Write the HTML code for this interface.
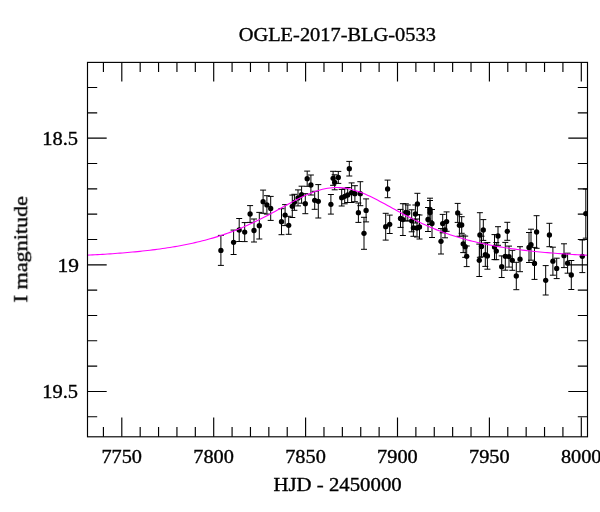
<!DOCTYPE html>
<html><head><meta charset="utf-8"><title>OGLE-2017-BLG-0533</title>
<style>html,body{margin:0;padding:0;background:#fff;}body{width:600px;height:512px;overflow:hidden;}svg{display:block;}text{font-family:"Liberation Serif",serif;fill:#000;stroke:#000;stroke-width:0.35px;}</style></head><body>
<svg width="600" height="512" viewBox="0 0 600 512">
<rect width="600" height="512" fill="#fff"/>
<defs><clipPath id="c"><rect x="87.5" y="62.4" width="500.0" height="374.4"/></clipPath></defs>
<path d="M103.42 436.80v-9.70M103.42 62.40v9.70M121.80 436.80v-19.20M121.80 62.40v19.20M140.18 436.80v-9.70M140.18 62.40v9.70M158.56 436.80v-9.70M158.56 62.40v9.70M176.94 436.80v-9.70M176.94 62.40v9.70M195.32 436.80v-9.70M195.32 62.40v9.70M213.70 436.80v-19.20M213.70 62.40v19.20M232.08 436.80v-9.70M232.08 62.40v9.70M250.46 436.80v-9.70M250.46 62.40v9.70M268.84 436.80v-9.70M268.84 62.40v9.70M287.22 436.80v-9.70M287.22 62.40v9.70M305.60 436.80v-19.20M305.60 62.40v19.20M323.98 436.80v-9.70M323.98 62.40v9.70M342.36 436.80v-9.70M342.36 62.40v9.70M360.74 436.80v-9.70M360.74 62.40v9.70M379.12 436.80v-9.70M379.12 62.40v9.70M397.50 436.80v-19.20M397.50 62.40v19.20M415.88 436.80v-9.70M415.88 62.40v9.70M434.26 436.80v-9.70M434.26 62.40v9.70M452.64 436.80v-9.70M452.64 62.40v9.70M471.02 436.80v-9.70M471.02 62.40v9.70M489.40 436.80v-19.20M489.40 62.40v19.20M507.78 436.80v-9.70M507.78 62.40v9.70M526.16 436.80v-9.70M526.16 62.40v9.70M544.54 436.80v-9.70M544.54 62.40v9.70M562.92 436.80v-9.70M562.92 62.40v9.70M581.30 436.80v-19.20M581.30 62.40v19.20M87.50 87.49h9.70M587.50 87.49h-9.70M87.50 112.82h9.70M587.50 112.82h-9.70M87.50 138.15h19.20M587.50 138.15h-19.20M87.50 163.48h9.70M587.50 163.48h-9.70M87.50 188.81h9.70M587.50 188.81h-9.70M87.50 214.14h9.70M587.50 214.14h-9.70M87.50 239.47h9.70M587.50 239.47h-9.70M87.50 264.80h19.20M587.50 264.80h-19.20M87.50 290.13h9.70M587.50 290.13h-9.70M87.50 315.46h9.70M587.50 315.46h-9.70M87.50 340.79h9.70M587.50 340.79h-9.70M87.50 366.12h9.70M587.50 366.12h-9.70M87.50 391.45h19.20M587.50 391.45h-19.20M87.50 416.78h9.70M587.50 416.78h-9.70" stroke="#000" stroke-width="1.15" fill="none"/>
<g clip-path="url(#c)">
<path d="M220.9 235.4V265.4M217.9 235.4h6M217.9 265.4h6M233.6 230.1V254.5M230.6 230.1h6M230.6 254.5h6M239.2 218.5V241.5M236.2 218.5h6M236.2 241.5h6M244.7 222.6V241.6M241.7 222.6h6M241.7 241.6h6M254.0 219.0V242.0M251.0 219.0h6M251.0 242.0h6M259.3 212.4V239.0M256.3 212.4h6M256.3 239.0h6M250.1 205.6V222.4M247.1 205.6h6M247.1 222.4h6M263.1 190.1V213.3M260.1 190.1h6M260.1 213.3h6M266.9 195.7V214.1M263.9 195.7h6M263.9 214.1h6M270.7 196.4V220.4M267.7 196.4h6M267.7 220.4h6M281.5 208.7V234.7M278.5 208.7h6M278.5 234.7h6M285.1 204.6V225.6M282.1 204.6h6M282.1 225.6h6M288.7 216.3V234.3M285.7 216.3h6M285.7 234.3h6M292.3 195.1V217.5M289.3 195.1h6M289.3 217.5h6M294.4 194.3V210.3M291.4 194.3h6M291.4 210.3h6M298.0 189.9V205.9M295.0 189.9h6M295.0 205.9h6M301.6 186.2V203.2M298.6 186.2h6M298.6 203.2h6M305.3 193.7V213.7M302.3 193.7h6M302.3 213.7h6M307.2 171.1V186.3M304.2 171.1h6M304.2 186.3h6M310.9 175.0V195.0M307.9 175.0h6M307.9 195.0h6M314.7 191.3V209.3M311.7 191.3h6M311.7 209.3h6M318.3 184.6V218.0M315.3 184.6h6M315.3 218.0h6M330.9 194.5V214.1M327.9 194.5h6M327.9 214.1h6M333.1 171.3V185.3M330.1 171.3h6M330.1 185.3h6M334.7 174.8V189.8M331.7 174.8h6M331.7 189.8h6M338.3 171.4V183.4M335.3 171.4h6M335.3 183.4h6M341.7 189.4V206.0M338.7 189.4h6M338.7 206.0h6M344.7 188.8V203.8M341.7 188.8h6M341.7 203.8h6M347.7 187.5V202.5M344.7 187.5h6M344.7 202.5h6M349.3 161.4V176.0M346.3 161.4h6M346.3 176.0h6M351.6 182.9V202.5M348.6 182.9h6M348.6 202.5h6M354.9 185.7V201.7M351.9 185.7h6M351.9 201.7h6M360.3 181.7V205.7M357.3 181.7h6M357.3 205.7h6M358.4 203.0V222.4M355.4 203.0h6M355.4 222.4h6M366.1 198.9V221.9M363.1 198.9h6M363.1 221.9h6M364.0 217.3V249.3M361.0 217.3h6M361.0 249.3h6M387.6 180.1V197.7M384.6 180.1h6M384.6 197.7h6M385.7 213.3V240.1M382.7 213.3h6M382.7 240.1h6M389.7 215.1V233.5M386.7 215.1h6M386.7 233.5h6M400.5 209.4V227.4M397.5 209.4h6M397.5 227.4h6M402.9 203.7V235.5M399.9 203.7h6M399.9 235.5h6M405.8 203.8V220.8M402.8 203.8h6M402.8 220.8h6M407.8 205.0V221.0M404.8 205.0h6M404.8 221.0h6M411.7 209.8V231.8M408.7 209.8h6M408.7 231.8h6M413.4 219.3V236.3M410.4 219.3h6M410.4 236.3h6M415.4 205.0V223.0M412.4 205.0h6M412.4 223.0h6M417.4 193.3V214.5M414.4 193.3h6M414.4 214.5h6M417.0 219.0V237.0M414.0 219.0h6M414.0 237.0h6M419.5 215.0V239.0M416.5 215.0h6M416.5 239.0h6M428.0 207.5V231.5M425.0 207.5h6M425.0 231.5h6M430.0 198.2V220.8M427.0 198.2h6M427.0 220.8h6M430.0 200.5V224.5M427.0 200.5h6M427.0 224.5h6M432.0 209.5V237.5M429.0 209.5h6M429.0 237.5h6M442.7 214.4V232.8M439.7 214.4h6M439.7 232.8h6M446.6 211.9V231.3M443.6 211.9h6M443.6 231.3h6M445.0 221.8V237.8M442.0 221.8h6M442.0 237.8h6M441.0 228.6V254.0M438.0 228.6h6M438.0 254.0h6M457.7 203.4V222.4M454.7 203.4h6M454.7 222.4h6M459.4 214.3V236.3M456.4 214.3h6M456.4 236.3h6M461.7 216.7V233.3M458.7 216.7h6M458.7 233.3h6M463.2 235.0V252.6M460.2 235.0h6M460.2 252.6h6M465.2 236.1V257.3M462.2 236.1h6M462.2 257.3h6M466.7 246.0V266.6M463.7 246.0h6M463.7 266.6h6M479.9 212.7V257.3M476.9 212.7h6M476.9 257.3h6M483.3 219.6V240.4M480.3 219.6h6M480.3 240.4h6M481.5 236.2V256.8M478.5 236.2h6M478.5 256.8h6M479.3 244.1V276.5M476.3 244.1h6M476.3 276.5h6M485.3 243.0V266.4M482.3 243.0h6M482.3 266.4h6M487.4 242.6V269.2M484.4 242.6h6M484.4 269.2h6M494.5 234.6V259.6M491.5 234.6h6M491.5 259.6h6M496.3 242.5V259.7M493.3 242.5h6M493.3 259.7h6M498.0 226.7V245.3M495.0 226.7h6M495.0 245.3h6M507.3 222.3V240.3M504.3 222.3h6M504.3 240.3h6M501.7 255.9V277.5M498.7 255.9h6M498.7 277.5h6M505.3 242.4V270.2M502.3 242.4h6M502.3 270.2h6M509.0 246.1V267.1M506.0 246.1h6M506.0 267.1h6M512.3 250.3V270.3M509.3 250.3h6M509.3 270.3h6M516.3 262.3V289.7M513.3 262.3h6M513.3 289.7h6M520.0 246.7V271.7M517.0 246.7h6M517.0 271.7h6M529.0 232.5V262.5M526.0 232.5h6M526.0 262.5h6M531.0 229.2V260.2M528.0 229.2h6M528.0 260.2h6M534.5 247.4V279.4M531.5 247.4h6M531.5 279.4h6M536.6 215.7V248.3M533.6 215.7h6M533.6 248.3h6M549.4 223.3V246.7M546.4 223.3h6M546.4 246.7h6M545.7 265.6V295.0M542.7 265.6h6M542.7 295.0h6M552.9 247.2V275.2M549.9 247.2h6M549.9 275.2h6M556.7 258.2V278.6M553.7 258.2h6M553.7 278.6h6M564.0 243.8V267.6M561.0 243.8h6M561.0 267.6h6M567.6 253.2V273.2M564.6 253.2h6M564.6 273.2h6M571.3 260.5V289.5M568.3 260.5h6M568.3 289.5h6M582.3 240.0V272.6M579.3 240.0h6M579.3 272.6h6M585.8 189.0V238.2M582.8 189.0h6M582.8 238.2h6" stroke="#000" stroke-width="1.0" fill="none"/>
<g fill="#000"><circle cx="220.9" cy="250.4" r="2.65"/><circle cx="233.6" cy="242.3" r="2.65"/><circle cx="239.2" cy="230.0" r="2.65"/><circle cx="244.7" cy="232.1" r="2.65"/><circle cx="254.0" cy="230.5" r="2.65"/><circle cx="259.3" cy="225.7" r="2.65"/><circle cx="250.1" cy="214.0" r="2.65"/><circle cx="263.1" cy="201.7" r="2.65"/><circle cx="266.9" cy="204.9" r="2.65"/><circle cx="270.7" cy="208.4" r="2.65"/><circle cx="281.5" cy="221.7" r="2.65"/><circle cx="285.1" cy="215.1" r="2.65"/><circle cx="288.7" cy="225.3" r="2.65"/><circle cx="292.3" cy="206.3" r="2.65"/><circle cx="294.4" cy="202.3" r="2.65"/><circle cx="298.0" cy="197.9" r="2.65"/><circle cx="301.6" cy="194.7" r="2.65"/><circle cx="305.3" cy="203.7" r="2.65"/><circle cx="307.2" cy="178.7" r="2.65"/><circle cx="310.9" cy="185.0" r="2.65"/><circle cx="314.7" cy="200.3" r="2.65"/><circle cx="318.3" cy="201.3" r="2.65"/><circle cx="330.9" cy="204.3" r="2.65"/><circle cx="333.1" cy="178.3" r="2.65"/><circle cx="334.7" cy="182.3" r="2.65"/><circle cx="338.3" cy="177.4" r="2.65"/><circle cx="341.7" cy="197.7" r="2.65"/><circle cx="344.7" cy="196.3" r="2.65"/><circle cx="347.7" cy="195.0" r="2.65"/><circle cx="349.3" cy="168.7" r="2.65"/><circle cx="351.6" cy="192.7" r="2.65"/><circle cx="354.9" cy="193.7" r="2.65"/><circle cx="360.3" cy="193.7" r="2.65"/><circle cx="358.4" cy="212.7" r="2.65"/><circle cx="366.1" cy="210.4" r="2.65"/><circle cx="364.0" cy="233.3" r="2.65"/><circle cx="387.6" cy="188.9" r="2.65"/><circle cx="385.7" cy="226.7" r="2.65"/><circle cx="389.7" cy="224.3" r="2.65"/><circle cx="400.5" cy="218.4" r="2.65"/><circle cx="402.9" cy="219.6" r="2.65"/><circle cx="405.8" cy="212.3" r="2.65"/><circle cx="407.8" cy="213.0" r="2.65"/><circle cx="411.7" cy="220.8" r="2.65"/><circle cx="413.4" cy="227.8" r="2.65"/><circle cx="415.4" cy="214.0" r="2.65"/><circle cx="417.4" cy="203.9" r="2.65"/><circle cx="417.0" cy="228.0" r="2.65"/><circle cx="419.5" cy="227.0" r="2.65"/><circle cx="428.0" cy="219.5" r="2.65"/><circle cx="430.0" cy="209.5" r="2.65"/><circle cx="430.0" cy="212.5" r="2.65"/><circle cx="432.0" cy="223.5" r="2.65"/><circle cx="442.7" cy="223.6" r="2.65"/><circle cx="446.6" cy="221.6" r="2.65"/><circle cx="445.0" cy="229.8" r="2.65"/><circle cx="441.0" cy="241.3" r="2.65"/><circle cx="457.7" cy="212.9" r="2.65"/><circle cx="459.4" cy="225.3" r="2.65"/><circle cx="461.7" cy="225.0" r="2.65"/><circle cx="463.2" cy="243.8" r="2.65"/><circle cx="465.2" cy="246.7" r="2.65"/><circle cx="466.7" cy="256.3" r="2.65"/><circle cx="479.9" cy="235.0" r="2.65"/><circle cx="483.3" cy="230.0" r="2.65"/><circle cx="481.5" cy="246.5" r="2.65"/><circle cx="479.3" cy="260.3" r="2.65"/><circle cx="485.3" cy="254.7" r="2.65"/><circle cx="487.4" cy="255.9" r="2.65"/><circle cx="494.5" cy="247.1" r="2.65"/><circle cx="496.3" cy="251.1" r="2.65"/><circle cx="498.0" cy="236.0" r="2.65"/><circle cx="507.3" cy="231.3" r="2.65"/><circle cx="501.7" cy="266.7" r="2.65"/><circle cx="505.3" cy="256.3" r="2.65"/><circle cx="509.0" cy="256.6" r="2.65"/><circle cx="512.3" cy="260.3" r="2.65"/><circle cx="516.3" cy="276.0" r="2.65"/><circle cx="520.0" cy="259.2" r="2.65"/><circle cx="529.0" cy="247.5" r="2.65"/><circle cx="531.0" cy="244.7" r="2.65"/><circle cx="534.5" cy="263.4" r="2.65"/><circle cx="536.6" cy="232.0" r="2.65"/><circle cx="549.4" cy="235.0" r="2.65"/><circle cx="545.7" cy="280.3" r="2.65"/><circle cx="552.9" cy="261.2" r="2.65"/><circle cx="556.7" cy="268.4" r="2.65"/><circle cx="564.0" cy="255.7" r="2.65"/><circle cx="567.6" cy="263.2" r="2.65"/><circle cx="571.3" cy="275.0" r="2.65"/><circle cx="582.3" cy="256.3" r="2.65"/><circle cx="585.8" cy="213.6" r="2.65"/></g>
<polyline points="87.5,255.17 90.0,255.05 92.5,254.92 95.0,254.78 97.5,254.64 100.0,254.49 102.5,254.34 105.0,254.19 107.5,254.03 110.0,253.86 112.5,253.69 115.0,253.51 117.5,253.32 120.0,253.13 122.5,252.93 125.0,252.73 127.5,252.51 130.0,252.29 132.5,252.06 135.0,251.83 137.5,251.58 140.0,251.33 142.5,251.06 145.0,250.79 147.5,250.51 150.0,250.21 152.5,249.91 155.0,249.59 157.5,249.27 160.0,248.93 162.5,248.58 165.0,248.21 167.5,247.83 170.0,247.44 172.5,247.04 175.0,246.61 177.5,246.18 180.0,245.73 182.5,245.26 185.0,244.77 187.5,244.27 190.0,243.74 192.5,243.20 195.0,242.64 197.5,242.06 200.0,241.46 202.5,240.83 205.0,240.19 207.5,239.52 210.0,238.82 212.5,238.11 215.0,237.37 217.5,236.60 220.0,235.81 222.5,234.99 225.0,234.14 227.5,233.27 230.0,232.37 232.5,231.44 235.0,230.48 237.5,229.49 240.0,228.48 242.5,227.43 245.0,226.36 247.5,225.25 250.0,224.12 252.5,222.96 255.0,221.78 257.5,220.56 260.0,219.32 262.5,218.06 265.0,216.77 267.5,215.47 270.0,214.14 272.5,212.80 275.0,211.44 277.5,210.08 280.0,208.70 282.5,207.33 285.0,205.95 287.5,204.58 290.0,203.23 292.5,201.88 295.0,200.56 297.5,199.27 300.0,198.01 302.5,196.79 305.0,195.62 307.5,194.50 310.0,193.44 312.5,192.45 315.0,191.54 317.5,190.71 320.0,189.96 322.5,189.30 325.0,188.74 327.5,188.29 330.0,187.94 332.5,187.70 335.0,187.56 337.5,187.54 340.0,187.64 342.5,187.84 345.0,188.15 347.5,188.57 350.0,189.09 352.5,189.71 355.0,190.43 357.5,191.23 360.0,192.12 362.5,193.08 365.0,194.11 367.5,195.21 370.0,196.36 372.5,197.57 375.0,198.81 377.5,200.10 380.0,201.41 382.5,202.74 385.0,204.10 387.5,205.46 390.0,206.84 392.5,208.21 395.0,209.59 397.5,210.95 400.0,212.31 402.5,213.66 405.0,214.99 407.5,216.31 410.0,217.60 412.5,218.87 415.0,220.12 417.5,221.34 420.0,222.54 422.5,223.71 425.0,224.85 427.5,225.96 430.0,227.05 432.5,228.11 435.0,229.13 437.5,230.13 440.0,231.10 442.5,232.04 445.0,232.95 447.5,233.83 450.0,234.69 452.5,235.52 455.0,236.32 457.5,237.09 460.0,237.84 462.5,238.57 465.0,239.27 467.5,239.95 470.0,240.60 472.5,241.23 475.0,241.84 477.5,242.43 480.0,243.00 482.5,243.55 485.0,244.08 487.5,244.59 490.0,245.08 492.5,245.56 495.0,246.02 497.5,246.46 500.0,246.89 502.5,247.30 505.0,247.70 507.5,248.08 510.0,248.45 512.5,248.80 515.0,249.15 517.5,249.48 520.0,249.80 522.5,250.11 525.0,250.40 527.5,250.69 530.0,250.97 532.5,251.23 535.0,251.49 537.5,251.74 540.0,251.98 542.5,252.21 545.0,252.44 547.5,252.65 550.0,252.86 552.5,253.06 555.0,253.25 557.5,253.44 560.0,253.62 562.5,253.80 565.0,253.97 567.5,254.13 570.0,254.29 572.5,254.44 575.0,254.59 577.5,254.73 580.0,254.87 582.5,255.00 585.0,255.13 587.5,255.25" stroke="#ff00ff" stroke-width="1.1" fill="none"/>
</g>
<rect x="87.5" y="62.4" width="500.0" height="374.4" stroke="#000" stroke-width="1.15" fill="none"/>
<g style="filter:grayscale(1)">
<text x="337.3" y="41.2" font-size="19.6" text-anchor="middle" textLength="197.2" lengthAdjust="spacingAndGlyphs">OGLE-2017-BLG-0533</text>
<text x="121.7" y="462.6" font-size="18.4" text-anchor="middle" textLength="40.6" lengthAdjust="spacingAndGlyphs">7750</text>
<text x="213.6" y="462.6" font-size="18.4" text-anchor="middle" textLength="40.6" lengthAdjust="spacingAndGlyphs">7800</text>
<text x="305.5" y="462.6" font-size="18.4" text-anchor="middle" textLength="40.6" lengthAdjust="spacingAndGlyphs">7850</text>
<text x="397.4" y="462.6" font-size="18.4" text-anchor="middle" textLength="40.6" lengthAdjust="spacingAndGlyphs">7900</text>
<text x="489.3" y="462.6" font-size="18.4" text-anchor="middle" textLength="40.6" lengthAdjust="spacingAndGlyphs">7950</text>
<text x="581.2" y="462.6" font-size="18.4" text-anchor="middle" textLength="40.6" lengthAdjust="spacingAndGlyphs">8000</text>
<text x="337.6" y="491.2" font-size="18.8" text-anchor="middle" textLength="128.2" lengthAdjust="spacingAndGlyphs">HJD - 2450000</text>
<text x="78.0" y="144.8" font-size="18.4" text-anchor="end" textLength="35.8" lengthAdjust="spacingAndGlyphs">18.5</text>
<text x="79.0" y="271.6" font-size="18.4" text-anchor="end" textLength="21.4" lengthAdjust="spacingAndGlyphs">19</text>
<text x="78.0" y="398.0" font-size="18.4" text-anchor="end" textLength="35.8" lengthAdjust="spacingAndGlyphs">19.5</text>
<text transform="translate(27.2,249.2) rotate(-90)" font-size="19.8" text-anchor="middle" textLength="106.3" lengthAdjust="spacingAndGlyphs">I magnitude</text>
</g>
</svg></body></html>
